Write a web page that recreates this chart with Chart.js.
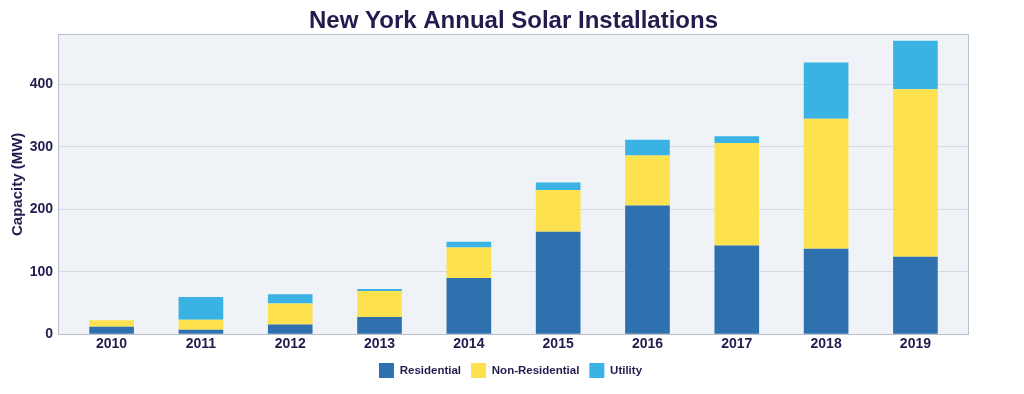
<!DOCTYPE html>
<html>
<head>
<meta charset="utf-8">
<script src="https://cdn.jsdelivr.net/npm/chart.js@4/dist/chart.umd.min.js"></script>
<style>
  html, body { margin: 0; padding: 0; background: #ffffff; }
  #wrap { width: 1024px; height: 394px; }
</style>
</head>
<body>
<div id="wrap"><canvas id="c" width="1024" height="394"></canvas></div>
<script>
const years = ['2010', '2011', '2012', '2013', '2014', '2015', '2016', '2017', '2018', '2019'];
const residential = [12, 7, 15.5, 27.5, 90, 164, 206, 142, 137, 124];
const nonResidential = [10.5, 16, 33.5, 41.5, 49, 67, 80, 164, 208, 268];
const utility = [0, 36.5, 15, 3.5, 9, 12, 25.5, 11, 90, 78];
const yTicks = [0, 100, 200, 300, 400];

const TEXT = '#221c4e';
const FONT = '"Liberation Sans", Arial, Helvetica, sans-serif';

const toPoints = arr => arr.map((v, i) => ({ x: i, y: v }));

const frame = {
  id: 'frame',
  afterLayout(chart) {
    // centre title and legend on the page rather than on the padded box
    if (chart.titleBlock) { chart.titleBlock.left += 29; chart.titleBlock.right += 29; }
    if (chart.legend) { chart.legend.left += 26; chart.legend.right += 26; }
  },
  beforeDraw(chart) {
    const { ctx, chartArea: a } = chart;
    ctx.save();
    ctx.fillStyle = '#eff3f8';
    ctx.fillRect(a.left, a.top, a.right - a.left, a.bottom - a.top);
    ctx.restore();
  },
  afterDatasetsDraw(chart) {
    const { ctx, chartArea: a } = chart;
    ctx.save();
    ctx.strokeStyle = '#b9c0cc';
    ctx.lineWidth = 1;
    ctx.strokeRect(Math.round(a.left) + 0.5, Math.round(a.top) + 0.5,
      Math.round(a.right - a.left) - 1, Math.round(a.bottom - a.top));
    ctx.restore();
  }
};

new Chart(document.getElementById('c'), {
  type: 'bar',
  data: {
    datasets: [
      { label: 'Residential', data: toPoints(residential), backgroundColor: '#2f70ae' },
      { label: 'Non-Residential', data: toPoints(nonResidential), backgroundColor: '#fde14f' },
      { label: 'Utility', data: toPoints(utility), backgroundColor: '#3ab3e4' }
    ]
  },
  options: {
    responsive: false,
    devicePixelRatio: 1,
    animation: false,
    layout: { padding: { left: 0, right: 55, top: 0, bottom: 6 } },
    datasets: { bar: { categoryPercentage: 1, barPercentage: 0.5, borderWidth: 0 } },
    plugins: {
      title: {
        display: true,
        text: 'New York Annual Solar Installations',
        color: TEXT,
        font: { family: FONT, size: 24, weight: 'bold', lineHeight: 1.1 },
        padding: { top: 8, bottom: 0 }
      },
      legend: {
        position: 'bottom',
        labels: {
          color: TEXT,
          boxWidth: 15,
          boxHeight: 15,
          padding: 10,
          font: { family: FONT, size: 11.5, weight: 'bold' }
        }
      },
      tooltip: { enabled: false }
    },
    scales: {
      x: {
        type: 'linear',
        stacked: true,
        offset: false,
        min: -0.6,
        max: 9.6,
        afterFit: s => { s.height -= 2; },
        grid: { display: false, drawTicks: false, offset: false },
        border: { display: false },
        ticks: {
          stepSize: 1,
          includeBounds: false,
          autoSkip: false,
          maxRotation: 0,
          padding: 2,
          color: TEXT,
          font: { family: FONT, size: 14, weight: 'bold' },
          callback: v => years[v] !== undefined ? years[v] : ''
        }
      },
      y: {
        stacked: true,
        min: 0,
        max: 480,
        afterFit: s => { s.width = 58; },
        grid: { color: '#d4dae2', lineWidth: 1, drawTicks: false },
        border: { display: false },
        afterBuildTicks: s => { s.ticks = yTicks.map(v => ({ value: v })); },
        ticks: {
          padding: 5,
          color: TEXT,
          font: { family: FONT, size: 14, weight: 'bold' }
        },
        title: {
          display: true,
          text: 'Capacity (MW)',
          color: TEXT,
          font: { family: FONT, size: 15, weight: 'bold', lineHeight: 1.2 },
          padding: { top: 9, bottom: 0 }
        }
      }
    }
  },
  plugins: [frame]
});
</script>
</body>
</html>
